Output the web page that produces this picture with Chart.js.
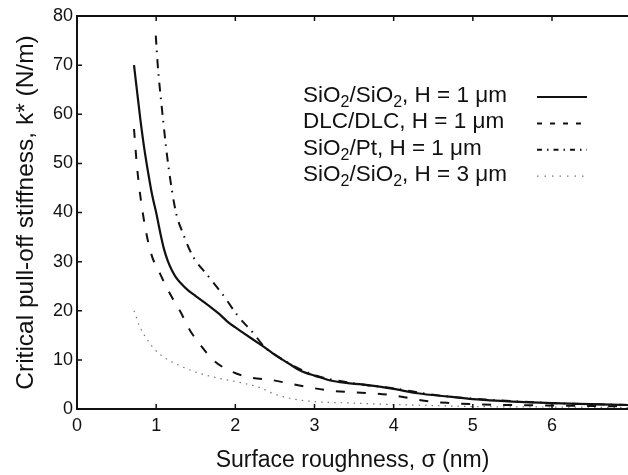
<!DOCTYPE html>
<html>
<head>
<meta charset="utf-8">
<title>Critical pull-off stiffness</title>
<script src="https://cdn.jsdelivr.net/npm/chart.js@4.4.1/dist/chart.umd.min.js"></script>
<style>
  html, body { margin: 0; padding: 0; background: #fff; overflow: hidden; }
  canvas { display: block; }
</style>
</head>
<body>
<canvas id="stiffChart" width="628" height="475"></canvas>
<script>
// surface roughness sigma (nm) -> critical pull-off stiffness k* (N/m)
const sioSio1Sigma = [0.72, 0.80, 0.85, 0.90, 0.95, 1.00, 1.05, 1.10, 1.15, 1.20, 1.25, 1.30, 1.40, 1.50, 1.60, 1.70, 1.80, 1.90, 2.00, 2.10, 2.20, 2.30, 2.40, 2.50, 2.60, 2.70, 2.80, 2.90, 3.00, 3.20, 3.40, 3.60, 3.80, 4.00, 4.30, 4.70, 5.00, 5.50, 6.00, 6.50, 7.00];
const sioSio1K     = [70.0, 59.0, 53.0, 48.0, 43.5, 40.0, 36.0, 32.5, 30.0, 28.2, 26.8, 25.8, 24.2, 23.0, 21.8, 20.6, 19.3, 17.8, 16.6, 15.5, 14.4, 13.3, 12.2, 11.0, 10.0, 9.0, 8.0, 7.3, 6.8, 5.8, 5.3, 5.0, 4.6, 4.1, 3.2, 2.5, 2.0, 1.5, 1.2, 1.0, 0.8];

const dlcSigma = [0.72, 0.76, 0.83, 0.93, 1.05, 1.18, 1.31, 1.42, 1.57, 1.74, 1.97, 2.20, 2.46, 2.71, 2.97, 3.22, 3.48, 3.73, 3.99, 4.20, 4.47, 4.73, 4.98, 5.50, 6.00, 6.50, 7.00];
const dlcK     = [57.0, 49.0, 40.0, 32.0, 27.5, 23.3, 19.7, 16.2, 12.8, 9.7, 7.5, 6.4, 5.9, 5.1, 4.3, 3.7, 3.4, 3.2, 2.8, 2.2, 1.5, 1.2, 1.0, 0.8, 0.7, 0.6, 0.55];

const sioPtSigma = [0.995, 1.02, 1.08, 1.15, 1.25, 1.34, 1.46, 1.65, 1.85, 2.03, 2.23, 2.37, 2.50, 2.70, 3.00, 3.50, 4.00, 4.50, 5.00, 5.50, 6.00, 7.00];
const sioPtK     = [76.0, 70.0, 60.0, 50.0, 40.0, 35.7, 31.2, 27.2, 23.1, 19.0, 15.4, 12.6, 11.1, 9.1, 6.9, 5.2, 4.2, 2.9, 2.1, 1.6, 1.2, 0.8];

const sioSio3Sigma = [0.72, 0.80, 0.90, 1.00, 1.15, 1.30, 1.50, 1.75, 2.00, 2.30, 2.50, 2.75, 3.00, 3.50, 4.00, 4.50, 5.00, 6.00, 7.00];
const sioSio3K     = [20.0, 16.5, 13.8, 11.8, 10.0, 8.8, 7.5, 6.4, 5.6, 4.4, 3.0, 2.0, 1.5, 1.2, 0.9, 0.7, 0.5, 0.4, 0.3];

const seriesLabels = ['SiO₂/SiO₂, H = 1 μm', 'DLC/DLC, H = 1 μm', 'SiO₂/Pt, H = 1 μm', 'SiO₂/SiO₂, H = 3 μm'];
const xTickValues = [0, 1, 2, 3, 4, 5, 6];
const yTickValues = [0, 10, 20, 30, 40, 50, 60, 70, 80];

const ink = '#111';
const fontFamily = '"Liberation Sans", Arial, Helvetica, sans-serif';

function toPoints(xs, ys) {
  return xs.map((x, i) => ({ x: x, y: ys[i] }));
}

// inward tick marks on left, bottom and top, plus the top frame line
const frameTicks = {
  id: 'frameTicks',
  afterDraw(chart) {
    const { ctx, chartArea: a, scales } = chart;
    ctx.save();
    ctx.strokeStyle = ink;
    ctx.lineWidth = 2;
    ctx.beginPath();
    ctx.moveTo(a.left - 1, a.top);
    ctx.lineTo(a.right, a.top);
    ctx.stroke();
    ctx.lineWidth = 1.5;
    ctx.beginPath();
    scales.x.ticks.forEach(t => {
      const px = scales.x.getPixelForValue(t.value);
      ctx.moveTo(px, a.bottom); ctx.lineTo(px, a.bottom - 5);
      ctx.moveTo(px, a.top); ctx.lineTo(px, a.top + 5);
    });
    scales.y.ticks.forEach(t => {
      const py = scales.y.getPixelForValue(t.value);
      ctx.moveTo(a.left, py); ctx.lineTo(a.left + 5, py);
    });
    ctx.stroke();
    ctx.restore();
  }
};

// legend block inside the plot: label text (with subscript 2) and a line sample
const sampleLegend = {
  id: 'sampleLegend',
  afterDraw(chart, args, opts) {
    const { ctx } = chart;
    ctx.save();
    ctx.fillStyle = ink;
    ctx.textBaseline = 'alphabetic';
    chart.data.datasets.forEach((ds, i) => {
      const base = opts.top + i * opts.rowGap;
      let x = opts.textX;
      ds.label.split(/(₂)/).forEach(part => {
        if (!part) return;
        if (part === '₂') {
          ctx.font = opts.subSize + 'px ' + fontFamily;
          ctx.fillText('2', x, base + 5);
          x += ctx.measureText('2').width;
        } else {
          ctx.font = opts.size + 'px ' + fontFamily;
          ctx.fillText(part, x, base);
          x += ctx.measureText(part).width;
        }
      });
      ctx.strokeStyle = ds.borderColor;
      ctx.lineWidth = ds.borderWidth;
      ctx.setLineDash(opts.dashes[i]);
      ctx.beginPath();
      ctx.moveTo(opts.lineX0, base - 5);
      ctx.lineTo(opts.lineX1, base - 5);
      ctx.stroke();
    });
    ctx.restore();
  }
};

new Chart(document.getElementById('stiffChart'), {
  type: 'line',
  data: {
    datasets: [{
      label: seriesLabels[0],
      data: toPoints(sioSio1Sigma, sioSio1K),
      borderColor: ink,
      borderWidth: 2.2
    }, {
      label: seriesLabels[1],
      data: toPoints(dlcSigma, dlcK),
      borderColor: ink,
      borderWidth: 2,
      borderDash: [9, 12]
    }, {
      label: seriesLabels[2],
      data: toPoints(sioPtSigma, sioPtK),
      borderColor: ink,
      borderWidth: 2,
      borderDash: [9, 6, 1.5, 7]
    }, {
      label: seriesLabels[3],
      data: toPoints(sioSio3Sigma, sioSio3K),
      borderColor: '#777',
      borderWidth: 1.2,
      borderDash: [1.5, 5]
    }]
  },
  options: {
    responsive: false,
    animation: false,
    parsing: false,
    layout: { padding: { top: 16, left: 0, right: 0, bottom: 0 } },
    elements: {
      point: { radius: 0 },
      line: { cubicInterpolationMode: 'monotone', fill: false }
    },
    plugins: {
      legend: { display: false },
      tooltip: { enabled: false },
      sampleLegend: {
        textX: 303, top: 102, rowGap: 26.4, size: 22.5, subSize: 16,
        lineX0: 537, lineX1: 587,
        dashes: [[], [5, 8], [5, 5, 1.5, 5], [1.5, 6]]
      }
    },
    scales: {
      x: {
        type: 'linear',
        min: 0,
        max: 6.96,
        afterFit: s => { s.height = 66; },
        afterBuildTicks: s => { s.ticks = xTickValues.map(v => ({ value: v })); },
        ticks: { padding: 6, color: ink, font: { family: fontFamily, size: 18 }, maxRotation: 0 },
        grid: { display: false, drawTicks: false },
        border: { display: true, color: ink, width: 2 },
        title: {
          display: true,
          text: 'Surface roughness, σ (nm)',
          color: ink,
          font: { family: fontFamily, size: 23 },
          padding: { top: 0, bottom: 1 }
        }
      },
      y: {
        type: 'linear',
        min: 0,
        max: 80,
        afterFit: s => { s.width = 77; },
        afterBuildTicks: s => { s.ticks = yTickValues.map(v => ({ value: v })); },
        ticks: { padding: 4, color: ink, font: { family: fontFamily, size: 18 } },
        grid: { display: false, drawTicks: false },
        border: { display: true, color: ink, width: 2 },
        title: {
          display: true,
          text: 'Critical pull-off stiffness, k* (N/m)',
          color: ink,
          font: { family: fontFamily, size: 24.5 },
          padding: { top: 12, bottom: 0 }
        }
      }
    }
  },
  plugins: [frameTicks, sampleLegend]
});
</script>
</body>
</html>
